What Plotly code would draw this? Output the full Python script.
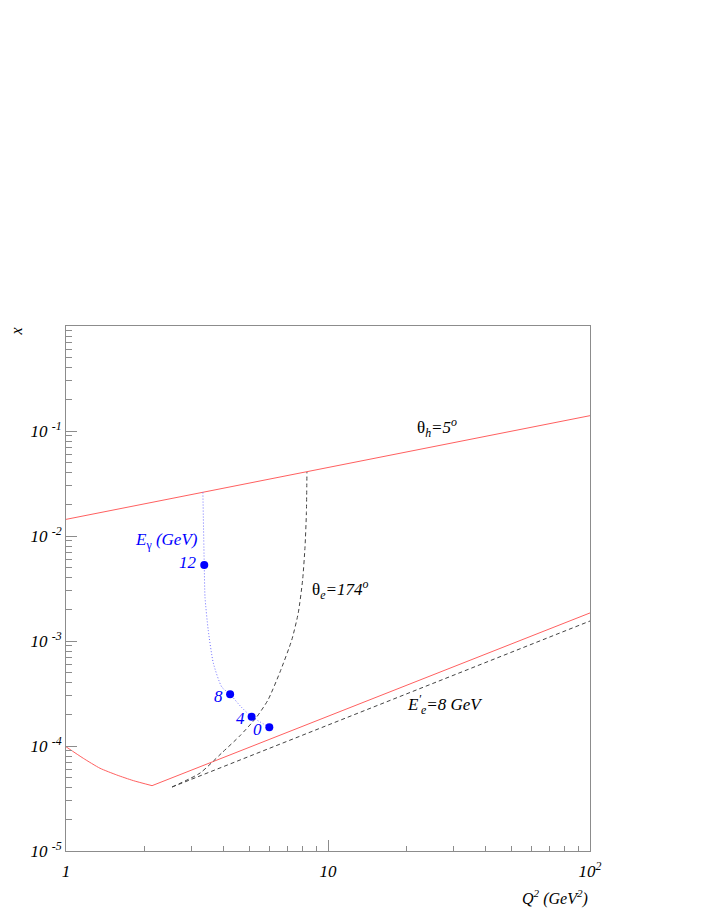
import numpy as np
import plotly.graph_objects as go

# theta_h = 5 deg boundary
th_h_q2 = [1.0, 100.0]
th_h_x = [0.0144, 0.140]

# lower red limit: curved part, then straight part
low_curve_q2 = [1.0, 1.164, 1.348, 1.561, 1.807, 2.13]
low_curve_x = [9.84e-5, 7.64e-5, 6.14e-5, 5.30e-5, 4.68e-5, 4.19e-5]
low_line_q2 = [2.13, 100.0]
low_line_x = [4.19e-5, 1.85e-3]

# E'e = 8 GeV (dashed)
ee_q2 = [2.54, 100.0]
ee_x = [4.07e-5, 1.55e-3]

# theta_e = 174 deg (dashed)
th_e_q2 = [2.54, 3.25, 3.93, 4.61, 5.31, 5.90, 6.56, 7.27, 7.70, 8.00, 8.17, 8.27, 8.31]
th_e_x = [4.07e-5, 5.53e-5, 8.58e-5, 1.25e-4, 1.85e-4, 2.74e-4, 5.07e-4,
          1.02e-3, 1.85e-3, 3.81e-3, 7.85e-3, 1.66e-2, 4.07e-2]

# E_gamma curve (dotted)
eg_q2 = [3.33, 3.37, 3.393, 3.49, 3.65, 3.93, 4.23, 4.65, 5.11, 5.97]
eg_x = [0.0260, 5.30e-3, 2.62e-3, 1.27e-3, 6.17e-4, 3.65e-4, 3.11e-4, 2.37e-4, 1.90e-4, 1.51e-4]

# E_gamma markers
eg_vals = [12, 8, 4, 0]
pt_q2 = [3.37, 4.23, 5.11, 5.97]
pt_x = [5.30e-3, 3.11e-4, 1.90e-4, 1.51e-4]

x_ticks = [1, 10, 100]
x_ticktext = ["<i>1</i>", "<i>10</i>", "<i>10<sup>2</sup></i>"]
y_ticks = [1e-5, 1e-4, 1e-3, 1e-2, 1e-1]
y_ticktext = ["<i>10 <sup>-%d</sup></i>" % k for k in [5, 4, 3, 2, 1]]

FONT = "Liberation Serif, Times New Roman, Times, serif"
RED = "#ff6060"
DASH = "#444444"
BLUE = "#0000ff"

fig = go.Figure()
fig.add_trace(go.Scatter(x=th_h_q2, y=th_h_x, mode="lines", line=dict(color=RED, width=1)))
fig.add_trace(go.Scatter(x=low_curve_q2, y=low_curve_x, mode="lines",
                         line=dict(color=RED, width=1, shape="spline", smoothing=0.6)))
fig.add_trace(go.Scatter(x=low_line_q2, y=low_line_x, mode="lines", line=dict(color=RED, width=1)))
fig.add_trace(go.Scatter(x=ee_q2, y=ee_x, mode="lines", line=dict(color=DASH, width=1, dash="4px,3px")))
fig.add_trace(go.Scatter(x=th_e_q2, y=th_e_x, mode="lines",
                         line=dict(color=DASH, width=1, dash="4px,3px", shape="spline", smoothing=0.6)))
fig.add_trace(go.Scatter(x=eg_q2, y=eg_x, mode="lines",
                         line=dict(color="#7070ff", width=1, dash="1px,2px", shape="spline", smoothing=0.6)))
fig.add_trace(go.Scatter(x=pt_q2, y=pt_x, mode="markers", marker=dict(color=BLUE, size=8)))

# point labels
for v, q, xx in zip(eg_vals, pt_q2, pt_x):
    fig.add_annotation(x=np.log10(q), y=np.log10(xx), text="<i>%d</i>" % v, showarrow=False,
                       xanchor="right", yanchor="middle", xshift=-5, yshift=-2 if v != 12 else 2,
                       font=dict(family=FONT, size=17, color=BLUE))

fig.add_annotation(x=0.511, y=-2.048, text="<i>E</i><sub>γ</sub><i> (GeV)</i>", showarrow=False,
                   xanchor="right", yanchor="middle", font=dict(family=FONT, size=17, color=BLUE))
fig.add_annotation(x=1.332, y=-0.971, text="θ<sub><i>h</i></sub><i>=5<sup>o</sup></i>", showarrow=False,
                   xanchor="left", yanchor="middle", font=dict(family=FONT, size=17, color="black"))
fig.add_annotation(x=0.931, y=-2.514, text="θ<sub><i>e</i></sub><i>=174<sup>o</sup></i>", showarrow=False,
                   xanchor="left", yanchor="middle", font=dict(family=FONT, size=17, color="black"))
fig.add_annotation(x=1.599, y=-3.600, text="<i>E<sup>′</sup><sub>e</sub>=8 GeV</i>", showarrow=False,
                   xanchor="right", yanchor="middle", font=dict(family=FONT, size=17, color="black"))

# axis titles
fig.add_annotation(xref="paper", yref="paper", x=-0.095, y=0.99, text="<i>x</i>", textangle=-90,
                   xanchor="center", yanchor="middle",
                   showarrow=False, font=dict(family=FONT, size=16, color="black"))
fig.add_annotation(xref="paper", yref="paper", x=1.0, y=-0.088, xanchor="right", yanchor="middle",
                   text="<i>Q<sup>2</sup> (GeV<sup>2</sup>)</i>", showarrow=False,
                   font=dict(family=FONT, size=16, color="black"))

minor_x = [m * d for d in [1, 10] for m in range(2, 10)]
minor_y = [m * d for d in [1e-5, 1e-4, 1e-3, 1e-2, 1e-1] for m in range(2, 10)]

axis_common = dict(showgrid=False, zeroline=False, showline=True, mirror=True,
                   linecolor="#8c8c8c", linewidth=1, ticks="inside", tickcolor="#8c8c8c",
                   tickwidth=1, ticklen=11, tickfont=dict(family=FONT, size=17, color="black"))

fig.update_xaxes(type="log", range=[0, 2], tickvals=x_ticks, ticktext=x_ticktext,
                 ticklabelstandoff=5,
                 minor=dict(tickvals=minor_x, ticks="inside", ticklen=5, tickcolor="#8c8c8c"),
                 **axis_common)
fig.update_yaxes(type="log", range=[-5, 0], tickvals=y_ticks, ticktext=y_ticktext,
                 minor=dict(tickvals=minor_y, ticks="inside", ticklen=6, tickcolor="#8c8c8c"),
                 **axis_common)

fig.update_layout(width=708, height=917, showlegend=False,
                  margin=dict(l=58, r=126, t=318, b=74, pad=0),
                  plot_bgcolor="white", paper_bgcolor="white")

fig.write_html("out.html")
